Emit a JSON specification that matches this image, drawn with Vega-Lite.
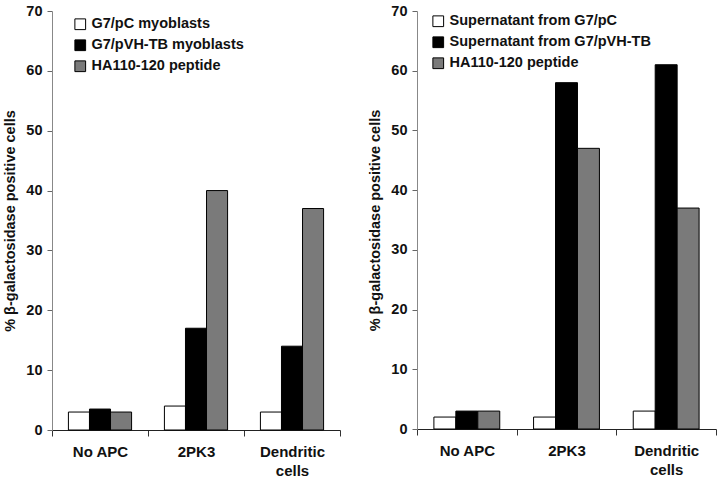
{
  "$schema": "https://vega.github.io/schema/vega-lite/v6.json",
  "background": "white",
  "padding": {"left": 2, "top": 3, "right": 0, "bottom": 0},
  "spacing": 26,
  "config": {
    "font": "Liberation Sans",
    "view": {"stroke": null},
    "axis": {"labelFont": "Liberation Sans", "titleFont": "Liberation Sans", "labelColor": "#111", "titleColor": "#111"},
    "legend": {
      "orient": "none",
      "title": null,
      "symbolType": "square",
      "symbolSize": 115,
      "symbolStrokeColor": "#000",
      "symbolStrokeWidth": 1,
      "labelFont": "Liberation Sans",
      "labelFontSize": 14.5,
      "labelFontWeight": "bold",
      "labelColor": "#111",
      "labelOffset": 4,
      "labelLimit": 300,
      "rowPadding": 5
    }
  },
  "datasets": {
    "left": [
      {"group": "No APC", "series": "G7/pC myoblasts", "value": 3},
      {"group": "No APC", "series": "G7/pVH-TB myoblasts", "value": 3.5},
      {"group": "No APC", "series": "HA110-120 peptide", "value": 3},
      {"group": "2PK3", "series": "G7/pC myoblasts", "value": 4},
      {"group": "2PK3", "series": "G7/pVH-TB myoblasts", "value": 17},
      {"group": "2PK3", "series": "HA110-120 peptide", "value": 40},
      {"group": "Dendritic cells", "series": "G7/pC myoblasts", "value": 3},
      {"group": "Dendritic cells", "series": "G7/pVH-TB myoblasts", "value": 14},
      {"group": "Dendritic cells", "series": "HA110-120 peptide", "value": 37}
    ],
    "right": [
      {"group": "No APC", "series": "Supernatant from G7/pC", "value": 2},
      {"group": "No APC", "series": "Supernatant from G7/pVH-TB", "value": 3},
      {"group": "No APC", "series": "HA110-120 peptide", "value": 3},
      {"group": "2PK3", "series": "Supernatant from G7/pC", "value": 2},
      {"group": "2PK3", "series": "Supernatant from G7/pVH-TB", "value": 58},
      {"group": "2PK3", "series": "HA110-120 peptide", "value": 47},
      {"group": "Dendritic cells", "series": "Supernatant from G7/pC", "value": 3},
      {"group": "Dendritic cells", "series": "Supernatant from G7/pVH-TB", "value": 61},
      {"group": "Dendritic cells", "series": "HA110-120 peptide", "value": 37}
    ]
  },
  "resolve": {"scale": {"fill": "independent", "x": "independent", "xOffset": "independent"}, "legend": {"fill": "independent"}},
  "hconcat": [
    {
      "width": 288,
      "height": 419,
      "data": {"name": "left"},
      "mark": {"type": "bar", "stroke": "#000", "strokeWidth": 1},
      "encoding": {
        "x": {
          "field": "group", "type": "nominal", "sort": ["No APC", "2PK3", "Dendritic cells"],
          "scale": {"paddingInner": 0, "paddingOuter": 0},
          "axis": {"title": null, "labelAngle": 0, "labelFontSize": 15, "labelFontWeight": "bold", "tickBand": "extent", "tickSize": 6, "tickColor": "#333", "domainColor": "#222", "labelPadding": 8, "labelLineHeight": 19,
            "labelExpr": "datum.value == 'Dendritic cells' ? ['Dendritic', 'cells'] : datum.label"}
        },
        "xOffset": {"field": "series", "type": "nominal", "sort": ["G7/pC myoblasts", "G7/pVH-TB myoblasts", "HA110-120 peptide"], "scale": {"paddingOuter": 0.78, "paddingInner": 0}},
        "y": {
          "field": "value", "type": "quantitative",
          "scale": {"domain": [0, 70], "nice": false},
          "axis": {"title": "% β-galactosidase positive cells", "values": [0, 10, 20, 30, 40, 50, 60, 70], "grid": false, "labelFontSize": 14.5, "labelFontWeight": "bold", "titleFontSize": 14.5, "titleFontWeight": "bold", "tickSize": 5, "labelPadding": 5, "titlePadding": 8, "domainColor": "#888", "tickColor": "#666"}
        },
        "fill": {
          "field": "series", "type": "nominal",
          "scale": {"domain": ["G7/pC myoblasts", "G7/pVH-TB myoblasts", "HA110-120 peptide"], "range": ["#ffffff", "#000000", "#7a7a7a"]},
          "legend": {"legendX": 21, "legendY": 6}
        }
      }
    },
    {
      "width": 299,
      "height": 418,
      "data": {"name": "right"},
      "mark": {"type": "bar", "stroke": "#000", "strokeWidth": 1},
      "encoding": {
        "x": {
          "field": "group", "type": "nominal", "sort": ["No APC", "2PK3", "Dendritic cells"],
          "scale": {"paddingInner": 0, "paddingOuter": 0},
          "axis": {"title": null, "labelAngle": 0, "labelFontSize": 15, "labelFontWeight": "bold", "tickBand": "extent", "tickSize": 6, "tickColor": "#333", "domainColor": "#222", "labelPadding": 8, "labelLineHeight": 19,
            "labelExpr": "datum.value == 'Dendritic cells' ? ['Dendritic', 'cells'] : datum.label"}
        },
        "xOffset": {"field": "series", "type": "nominal", "sort": ["Supernatant from G7/pC", "Supernatant from G7/pVH-TB", "HA110-120 peptide"], "scale": {"paddingOuter": 0.77, "paddingInner": 0}},
        "y": {
          "field": "value", "type": "quantitative",
          "scale": {"domain": [0, 70], "nice": false},
          "axis": {"title": "% β-galactosidase positive cells", "values": [0, 10, 20, 30, 40, 50, 60, 70], "grid": false, "labelFontSize": 14.5, "labelFontWeight": "bold", "titleFontSize": 14.5, "titleFontWeight": "bold", "tickSize": 5, "labelPadding": 5, "titlePadding": 8, "domainColor": "#888", "tickColor": "#666"}
        },
        "fill": {
          "field": "series", "type": "nominal",
          "scale": {"domain": ["Supernatant from G7/pC", "Supernatant from G7/pVH-TB", "HA110-120 peptide"], "range": ["#ffffff", "#000000", "#7a7a7a"]},
          "legend": {"legendX": 14, "legendY": 3}
        }
      }
    }
  ]
}
